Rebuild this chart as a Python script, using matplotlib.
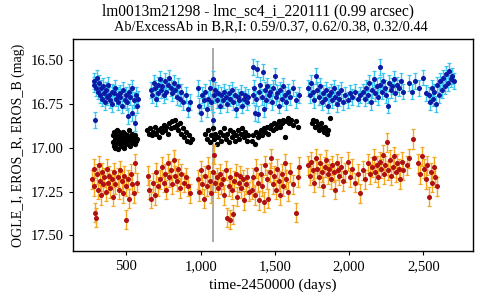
import matplotlib
matplotlib.use("Agg")
import matplotlib.pyplot as plt
from matplotlib.ticker import FuncFormatter

# ---- data -------------------------------------------------------------------
# EROS_B : time, mag, err
B_T = [280, 285, 290, 295, 300, 310, 315, 320, 330, 335, 340, 350, 355, 360,
       370, 375, 385, 390, 400, 405, 415, 420, 430, 440, 445, 455, 460, 470,
       480, 490, 495, 505, 510, 520, 525, 535, 540, 550, 555, 565, 570, 575,
       665, 670, 685, 690, 700, 710, 715, 725, 735, 740, 750, 760, 770, 780,
       790, 800, 810, 820, 830, 840, 850, 860, 870, 880, 900, 915, 925,
       980, 990, 1000, 1010, 1020, 1030, 1040, 1050, 1060, 1070, 1080, 1085,
       1090, 1100, 1110, 1120, 1130, 1140, 1150, 1160, 1170, 1180, 1190, 1200,
       1210, 1220, 1230, 1240, 1250, 1260, 1270, 1280, 1290, 1300, 1310, 1320,
       1350, 1355, 1360, 1365, 1375, 1380, 1385, 1395, 1400, 1410, 1420, 1425,
       1435, 1440, 1450, 1460, 1470, 1480, 1490, 1500, 1505, 1515, 1525, 1535,
       1545, 1555, 1565, 1575, 1590, 1605, 1620, 1640, 1660,
       1725, 1735, 1745, 1755, 1765, 1775, 1785, 1795, 1805, 1815, 1825, 1835,
       1845, 1855, 1865, 1875, 1885, 1895, 1905, 1915, 1925, 1935, 1945, 1960,
       1975, 1990, 2005, 2020, 2040, 2060, 2075,
       2095, 2105, 2115, 2125, 2135, 2145, 2155, 2165, 2175, 2185, 2195, 2205,
       2210, 2220, 2230, 2240, 2250, 2260, 2270, 2280, 2290, 2300, 2310, 2320,
       2335, 2350, 2365, 2400, 2425, 2445, 2470, 2495, 2515,
       2535, 2545, 2555, 2565, 2575, 2585, 2595, 2605, 2615, 2625, 2635, 2645,
       2655, 2665, 2675, 2685, 2695, 2705]
B_MAG = [16.62, 16.64, 16.84, 16.66, 16.60, 16.68, 16.63, 16.70, 16.66, 16.72,
         16.65, 16.69, 16.74, 16.67, 16.71, 16.64, 16.70, 16.73, 16.68, 16.75,
         16.69, 16.66, 16.72, 16.70, 16.74, 16.69, 16.71, 16.76, 16.67, 16.73,
         16.70, 16.74, 16.82, 16.68, 16.71, 16.80, 16.66, 16.73, 16.86, 16.70,
         16.76, 16.72,
         16.67, 16.70, 16.63, 16.66, 16.72, 16.64, 16.69, 16.61, 16.67, 16.65,
         16.70, 16.62, 16.68, 16.64, 16.60, 16.66, 16.69, 16.63, 16.67, 16.71,
         16.65, 16.72, 16.68, 16.74, 16.70, 16.78, 16.74,
         16.66, 16.76, 16.80, 16.70, 16.73, 16.68, 16.78, 16.72, 16.66, 16.74,
         16.61, 16.84, 16.70, 16.67, 16.73, 16.69, 16.76, 16.70, 16.73, 16.68,
         16.71, 16.75, 16.69, 16.72, 16.67, 16.74, 16.70, 16.78, 16.71, 16.73,
         16.69, 16.76, 16.72, 16.70, 16.74, 16.71,
         16.70, 16.54, 16.66, 16.80, 16.72, 16.55, 16.81, 16.68, 16.64, 16.71,
         16.57, 16.78, 16.67, 16.73, 16.65, 16.70, 16.68, 16.74, 16.66, 16.59,
         16.71, 16.69, 16.76, 16.67, 16.72, 16.65, 16.70, 16.74, 16.68, 16.71,
         16.66, 16.73, 16.70,
         16.66, 16.70, 16.63, 16.68, 16.73, 16.59, 16.67, 16.71, 16.65, 16.74,
         16.69, 16.72, 16.67, 16.76, 16.70, 16.68, 16.73, 16.66, 16.71, 16.75,
         16.69, 16.72, 16.67, 16.74, 16.70, 16.73, 16.69, 16.71, 16.68, 16.72,
         16.70,
         16.68, 16.72, 16.66, 16.70, 16.63, 16.74, 16.67, 16.61, 16.69, 16.65,
         16.71, 16.54, 16.64, 16.68, 16.62, 16.66, 16.70, 16.76, 16.63, 16.67,
         16.65, 16.61, 16.69, 16.64, 16.66, 16.62, 16.68, 16.63, 16.68, 16.62,
         16.66, 16.60, 16.69,
         16.70, 16.74, 16.66, 16.72, 16.68, 16.75, 16.64, 16.70, 16.62, 16.67,
         16.60, 16.65, 16.58, 16.63, 16.56, 16.61, 16.59, 16.62]
B_ERR = [0.045] * len(B_T)

# OGLE_I : time, mag
I_T = [410, 412, 415, 418, 420, 423, 425, 428, 430, 433, 435, 438, 440, 443,
       445, 448, 450, 453, 455, 458, 460, 463, 465, 468, 470, 473, 475, 478,
       480, 483, 485, 488, 490, 495, 500, 505, 510, 515, 520, 525, 530, 535,
       540, 545, 550, 555, 560, 565, 570,
       640, 650, 660, 670, 680, 690, 700, 710, 720, 730, 740, 750, 760, 770,
       780, 790, 800, 810, 820, 830, 840, 850, 860, 870, 880, 890, 900, 910,
       920, 930, 940,
       1030, 1040, 1050, 1060, 1070, 1080, 1090, 1100, 1110, 1120, 1130, 1140,
       1150, 1160, 1170, 1180, 1190, 1200, 1210, 1220, 1230, 1240, 1250, 1260,
       1270, 1280, 1290, 1300, 1310, 1320,
       1345, 1355, 1365, 1375, 1385, 1395, 1405, 1415, 1425, 1435, 1445, 1455,
       1465, 1475, 1485, 1495, 1505, 1515, 1525, 1535, 1545, 1555, 1565, 1575,
       1585, 1595, 1610, 1625, 1640, 1655,
       1750, 1760, 1770, 1780, 1790, 1800, 1810, 1820, 1830, 1840, 1850, 1860,
       1870]
I_MAG = [16.93, 16.97, 16.91, 16.99, 16.95, 16.93, 17.00, 16.96, 16.92, 16.98,
         16.94, 16.90, 16.97, 16.95, 17.01, 16.93, 16.96, 16.91, 16.98, 16.94,
         16.96, 16.92, 16.99, 16.95, 16.93, 16.97, 16.91, 16.96, 16.94, 17.00,
         16.95, 16.92, 16.97, 16.94, 16.98, 16.93, 16.96, 16.90, 16.95, 16.99,
         16.94, 16.97, 16.92, 16.96, 16.94, 16.98, 16.93, 16.96, 16.95,
         16.90, 16.92, 16.89, 16.93, 16.91, 16.88, 16.92, 16.90, 16.94, 16.89,
         16.91, 16.87, 16.90, 16.88, 16.92, 16.86, 16.89, 16.85, 16.88, 16.84,
         16.87, 16.90, 16.86, 16.92, 16.89, 16.94, 16.91, 16.96, 16.93, 16.97,
         16.95,
         16.92, 16.95, 16.90, 16.97, 16.93, 16.89, 16.95, 16.92, 16.98, 16.94,
         16.91, 16.96, 16.93, 16.89, 16.95, 16.92, 16.97, 16.90, 16.94, 16.91,
         16.96, 16.93, 16.90, 16.95, 16.92, 16.89, 16.94, 16.91, 16.96, 16.93,
         16.96, 16.93, 16.98, 16.91, 16.94, 16.92, 16.90, 16.93, 16.89, 16.91,
         16.88, 16.92, 16.89, 16.87, 16.90, 16.86, 16.89, 16.87, 16.85, 16.88,
         16.86, 16.84, 16.94, 16.85, 16.83, 16.86, 16.84, 16.87, 16.85, 16.88,
         16.86, 16.84, 16.88, 16.85, 16.87, 16.90, 16.86, 16.89, 16.91, 16.88,
         16.92, 16.90, 16.83]

# EROS_R : time, mag, err
R_T = [270, 280, 285, 290, 295, 300, 310, 315, 320, 330, 335, 345, 350, 360,
       370, 375, 385, 390, 400, 410, 415, 425, 440, 450, 460, 470, 475, 485,
       495, 500, 510, 520, 530, 540, 550, 560, 570,
       645, 655, 665, 680, 690, 700, 715, 725, 740, 750, 760, 770, 780, 790,
       800, 810, 820, 830, 840, 850, 860, 870, 885, 900, 915, 925,
       980, 990, 1000, 1010, 1020, 1030, 1040, 1050, 1060, 1070, 1080, 1090,
       1100, 1110, 1120, 1130, 1140, 1150, 1160, 1170, 1180, 1190, 1195, 1200,
       1210, 1220, 1225, 1235, 1245, 1255, 1265, 1275, 1285, 1295, 1305, 1315,
       1325,
       1345, 1355, 1365, 1375, 1385, 1395, 1405, 1415, 1425, 1435, 1445, 1455,
       1465, 1475, 1485, 1495, 1505, 1515, 1525, 1535, 1545, 1555, 1565, 1575,
       1590, 1605, 1620, 1640, 1655, 1665,
       1725, 1735, 1745, 1755, 1765, 1775, 1785, 1795, 1805, 1815, 1825, 1835,
       1845, 1855, 1865, 1875, 1885, 1895, 1905, 1915, 1925, 1935, 1945, 1960,
       1975, 1990, 2005, 2020, 2040, 2060, 2075,
       2095, 2110, 2125, 2140, 2155, 2165, 2175, 2185, 2195, 2205, 2215, 2225,
       2235, 2245, 2255, 2265, 2275, 2285, 2295, 2305, 2315, 2325, 2335, 2345,
       2355, 2365, 2390, 2405,
       2430, 2465, 2475, 2490, 2505, 2515, 2525, 2540, 2550, 2560, 2570, 2580,
       2590]
R_MAG = [17.18, 17.12, 17.22, 17.37, 17.40, 17.15, 17.24, 17.10, 17.19, 17.27,
         17.14, 17.21, 17.17, 17.25, 17.12, 17.20, 17.16, 17.23, 17.18, 17.28,
         17.14, 17.21, 17.17, 17.24, 17.13, 17.19, 17.26, 17.16, 17.41, 17.22,
         17.18, 17.29, 17.15, 17.21, 17.26, 17.09, 17.20,
         17.16, 17.24, 17.29, 17.20, 17.27, 17.14, 17.22, 17.18, 17.11, 17.20,
         17.15, 17.24, 17.09, 17.17, 17.13, 17.21, 17.07, 17.16, 17.19, 17.12,
         17.23, 17.15, 17.20, 17.17, 17.22, 17.26,
         17.18, 17.25, 17.13, 17.21, 17.29, 17.16, 17.22, 17.11, 17.19, 17.26,
         17.14, 17.04, 17.20, 17.17, 17.23, 17.15, 17.21, 17.18, 17.27, 17.13,
         17.40, 17.22, 17.41, 17.17, 17.24, 17.38, 17.19, 17.15, 17.28, 17.20,
         17.16, 17.23, 17.18, 17.30, 17.21, 17.17, 17.25,
         17.24, 17.17, 17.27, 17.12, 17.20, 17.30, 17.15, 17.22, 17.31, 17.10,
         17.18, 17.29, 17.14, 17.06, 17.21, 17.16, 17.24, 17.12, 17.19, 17.27,
         17.15, 17.22, 17.09, 17.18, 17.25, 17.14, 17.21, 17.37, 17.17, 17.11,
         17.10, 17.16, 17.08, 17.13, 17.20, 17.06, 17.12, 17.17, 17.09, 17.14,
         17.22, 17.11, 17.07, 17.15, 17.12, 17.18, 17.10, 17.14, 17.24, 17.09,
         17.13, 17.16, 17.11, 17.19, 17.14, 17.08, 17.17, 17.12, 17.20, 17.15,
         17.26,
         17.13, 17.18, 17.09, 17.15, 17.11, 17.06, 17.14, 17.10, 17.17, 17.08,
         17.12, 17.04, 17.15, 17.10, 16.97, 17.13, 17.07, 17.16, 17.11, 17.05,
         17.14, 17.09, 17.12, 17.18, 17.08, 17.13, 17.10, 17.06,
         16.95, 17.09, 17.15, 17.05, 17.12, 17.18, 17.10, 17.28, 17.14, 17.20,
         17.11, 17.17, 17.22]
R_ERR = [0.055] * len(R_T)

VLINE_T = 1085
VLINE_MAG = (16.43, 17.54)

TITLE_1 = "lm0013m21298 - lmc_sc4_i_220111 (0.99 arcsec)"
TITLE_2 = "Ab/ExcessAb in B,R,I: 0.59/0.37, 0.62/0.38, 0.32/0.44"

# ---- style -------------------------------------------------------------------
plt.rcParams["font.family"] = ["Liberation Serif", "DejaVu Serif"]

fig = plt.figure(figsize=(4.8, 3.0), dpi=100)
ax = fig.add_axes([0.152, 0.163, 0.833, 0.707])

ax.vlines(VLINE_T, VLINE_MAG[0], VLINE_MAG[1], color="#999999", lw=1.2, zorder=1)

ax.errorbar(B_T, B_MAG, yerr=B_ERR, fmt="o", ms=2.6, color="#0b1aa6",
            ecolor="#3cc4f0", elinewidth=1.0, capsize=1.7, capthick=0.9, zorder=3)
ax.plot(I_T, I_MAG, "o", ms=2.8, color="black", zorder=3)
ax.errorbar(R_T, R_MAG, yerr=R_ERR, fmt="o", ms=2.6, color="#b01010",
            ecolor="#f5a623", elinewidth=1.0, capsize=1.7, capthick=0.9, zorder=3)

ax.set_xlim(140, 2833)
ax.set_ylim(17.59, 16.38)
ax.set_xticks([500, 1000, 1500, 2000, 2500])
ax.set_yticks([16.50, 16.75, 17.00, 17.25, 17.50])
ax.xaxis.set_major_formatter(FuncFormatter(lambda v, p: f"{v:,.0f}"))
ax.yaxis.set_major_formatter(FuncFormatter(lambda v, p: f"{v:.2f}"))
ax.tick_params(labelsize=10.5, length=3, width=0.8, direction="out")
for s in ax.spines.values():
    s.set_linewidth(1.0)

ax.set_xlabel("time-2450000 (days)", fontsize=11)
ax.set_ylabel("OGLE_I, EROS_R, EROS_B (mag)", fontsize=10)
fig.text(0.538, 0.963, TITLE_1, ha="center", va="center", fontsize=11.2)
fig.text(0.565, 0.912, TITLE_2, ha="center", va="center", fontsize=10.4)

fig.savefig("out.png", dpi=100)
